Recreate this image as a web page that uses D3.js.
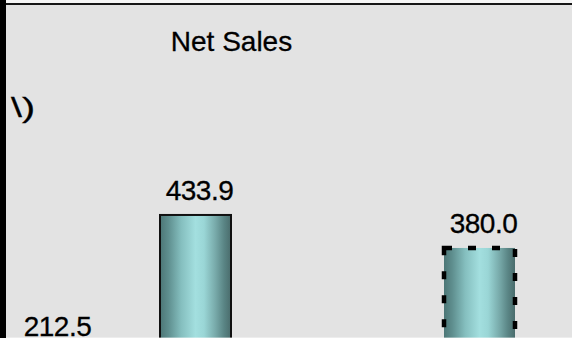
<!DOCTYPE html>
<html>
<head>
<meta charset="utf-8">
<script src="https://cdn.jsdelivr.net/npm/d3@7"></script>
<style>
  html, body { margin: 0; padding: 0; background: #e3e3e3; }
  svg { display: block; }
  text { font-family: "Liberation Sans", Arial, sans-serif; fill: #000; stroke: #000; stroke-width: 0.3; }
</style>
</head>
<body>
<svg id="chart" width="572" height="338"></svg>
<script>
// Net sales by period (third period sits below the visible area)
const periods = ["P1", "P2", "P3", "P4"];
const netSales = [212.5, 433.9, null, 380.0];
const barStyles = ["solid", "solid", "solid", "dashed"];
const titleText = "Net Sales";
const unitText = "\\)";

const W = 572, H = 338;
const svg = d3.select("#chart");

// background panel
svg.append("rect").attr("width", W).attr("height", H).attr("fill", "#e3e3e3");
svg.append("rect").attr("x", 0).attr("y", 0).attr("width", W).attr("height", 3).attr("fill", "#f6f6f6");
svg.append("rect").attr("x", 0).attr("y", 3).attr("width", W).attr("height", 2).attr("fill", "#161616");

// horizontal cylinder-like shading for the bars
const defs = svg.append("defs");
const grad = defs.append("linearGradient").attr("id", "barShade")
  .attr("x1", "0%").attr("x2", "100%").attr("y1", "0%").attr("y2", "0%");
[
  [0, "#4c7676"], [0.12, "#5f8f8f"], [0.3, "#85bfbf"], [0.5, "#a3dfdf"],
  [0.62, "#9ad6d6"], [0.78, "#78aaaa"], [0.9, "#5a8585"], [1, "#4a6c6c"]
].forEach(([o, c]) => grad.append("stop").attr("offset", o).attr("stop-color", c));

const x = d3.scaleBand()
  .domain(periods)
  .range([-17.5, 550.5])
  .paddingInner(0.5)
  .paddingOuter(0.25);

const y = d3.scaleLinear()
  .domain([0, 500])
  .range([480.6, 480.6 - 500 * 0.6122]);

const data = periods.map((p, i) => ({ p, v: netSales[i], style: barStyles[i] }))
  .filter(d => d.v != null);

const bars = svg.append("g");
bars.selectAll("rect.bar")
  .data(data)
  .join("rect")
  .attr("class", "bar")
  .attr("x", d => x(d.p))
  .attr("y", d => y(d.v))
  .attr("width", x.bandwidth())
  .attr("height", d => y(0) - y(d.v))
  .attr("fill", "url(#barShade)")
  .attr("stroke", d => d.style === "dashed" ? "#000" : "#111")
  .attr("stroke-width", d => d.style === "dashed" ? 4.5 : 2)
  .attr("stroke-dasharray", d => d.style === "dashed" ? "8,16" : null);

// value labels above each bar
svg.append("g").selectAll("text.val")
  .data(data)
  .join("text")
  .attr("class", "val")
  .attr("x", d => x(d.p) + x.bandwidth() / 2 + 4)
  .attr("y", d => y(d.v) - 15)
  .attr("text-anchor", "middle")
  .attr("font-size", 28)
  .attr("letter-spacing", -0.5)
  .text(d => d.v.toFixed(1));

// title
svg.append("text")
  .attr("x", 231.5)
  .attr("y", 51)
  .attr("text-anchor", "middle")
  .attr("font-size", 28)
  .text(titleText);

// unit fragment (wide backslash glyph)
svg.append("text")
  .attr("x", 11)
  .attr("y", 117)
  .attr("font-size", 28)
  .attr("textLength", 24)
  .attr("lengthAdjust", "spacingAndGlyphs")
  .text(unitText);

// frame edges
svg.append("rect").attr("x", 0).attr("y", 0).attr("width", 6).attr("height", H).attr("fill", "#000");
svg.append("rect").attr("x", 6).attr("y", 337).attr("width", W - 6).attr("height", 1)
  .attr("fill", "#ffffff").attr("opacity", 0.35);
</script>
</body>
</html>
